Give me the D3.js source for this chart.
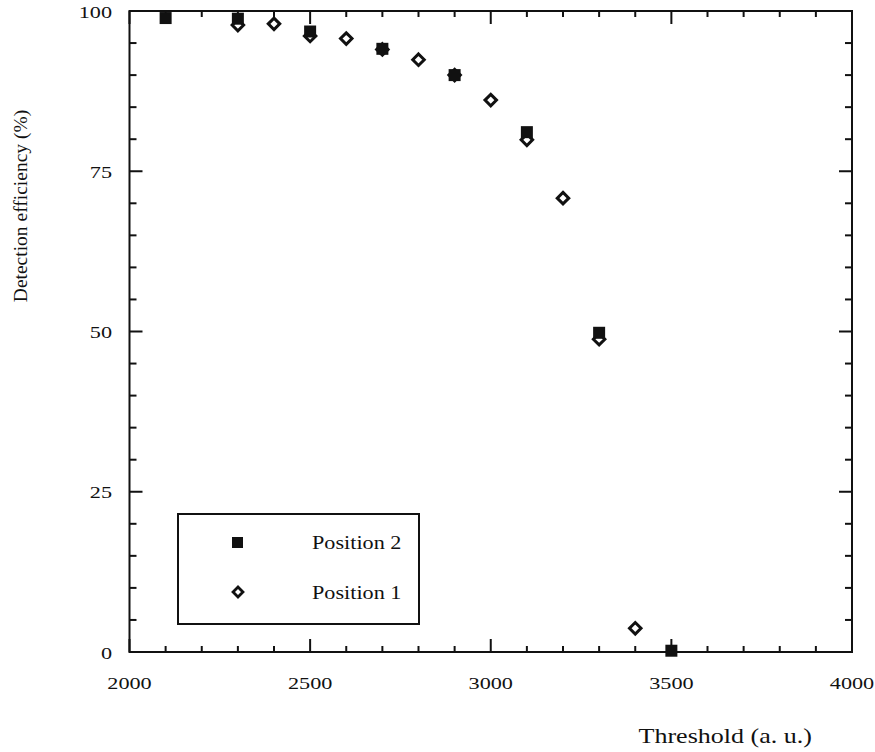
<!DOCTYPE html>
<html>
<head>
<meta charset="utf-8">
<script src="https://cdn.jsdelivr.net/npm/d3@7"></script>
<style>
  body { margin: 0; background: #fff; }
  svg { display: block; }
  text { font-family: "Liberation Serif", "Times New Roman", serif; fill: #111; }
</style>
</head>
<body>
<svg id="chart" width="875" height="752"></svg>
<script>
// values
var pos2Threshold = [2100, 2300, 2500, 2700, 2900, 3100, 3300, 3500];
var pos2Eff       = [98.9, 98.8, 96.8, 94.1, 90.0, 81.1, 49.8, 0.2];

var pos1Threshold = [2300, 2400, 2500, 2600, 2700, 2800, 2900, 3000, 3100, 3200, 3300, 3400];
var pos1Eff       = [97.8, 98.0, 96.1, 95.7, 94.0, 92.4, 90.0, 86.1, 79.9, 70.8, 48.8, 3.7];

var xTickLabels = [2000, 2500, 3000, 3500, 4000];
var yTickLabels = [0, 25, 50, 75, 100];
var seriesNames = ["Position 2", "Position 1"];

var svg = d3.select("#chart");
var plotL = 129.5, plotR = 852, plotT = 11, plotB = 652;

var x = d3.scaleLinear().domain([2000, 4000]).range([plotL, plotR]);
var y = d3.scaleLinear().domain([0, 100]).range([plotB, plotT]);

// the scan is a bit wider than tall, so text is stretched sideways
function place(sel, fx, fy, sx){
  return sel.attr("transform", function(d, i){
    return "translate(" + fx(d, i) + "," + fy(d, i) + ") scale(" + sx + ",1)";
  });
}

var frame = svg.append("g").attr("stroke", "#111").attr("stroke-width", 2);

// ticks on all four sides, pointing inward
var minorX = d3.range(2000, 4001, 100);
minorX.forEach(function(v){
  var len = (v % 500 === 0) ? 13 : 6;
  frame.append("line").attr("x1", x(v)).attr("x2", x(v)).attr("y1", plotB).attr("y2", plotB - len);
  frame.append("line").attr("x1", x(v)).attr("x2", x(v)).attr("y1", plotT).attr("y2", plotT + len);
});
var minorY = d3.range(0, 101, 5);
minorY.forEach(function(v){
  var len = (v % 25 === 0) ? 13 : 7;
  frame.append("line").attr("y1", y(v)).attr("y2", y(v)).attr("x1", plotL).attr("x2", plotL + len);
  frame.append("line").attr("y1", y(v)).attr("y2", y(v)).attr("x1", plotR).attr("x2", plotR - len);
});

frame.append("rect")
  .attr("x", plotL).attr("y", plotT)
  .attr("width", plotR - plotL).attr("height", plotB - plotT)
  .attr("fill", "none");

// tick labels
place(svg.selectAll(".xl").data(xTickLabels).enter().append("text"),
  function(d){ return x(d); }, function(){ return plotB + 37; }, 1.27)
  .attr("text-anchor", "middle")
  .style("font-size", "17.5px")
  .text(function(d){ return d; });

place(svg.selectAll(".yl").data(yTickLabels).enter().append("text"),
  function(){ return 112; }, function(d){ return y(d) + 6.5; }, 1.27)
  .attr("text-anchor", "end")
  .style("font-size", "17.5px")
  .text(function(d){ return d; });

// axis titles
place(svg.append("text").datum(0), function(){ return 812; }, function(){ return 743; }, 1.24)
  .attr("text-anchor", "end")
  .style("font-size", "21px")
  .text("Threshold (a. u.)");

svg.append("text")
  .attr("transform", "translate(27,206) rotate(-90)")
  .attr("text-anchor", "middle")
  .style("font-size", "19.5px")
  .text("Detection efficiency (%)");

var diamond = d3.symbol().type(d3.symbolDiamond2).size(84);

// Position 1: open diamonds
svg.append("g").selectAll("path")
  .data(d3.zip(pos1Threshold, pos1Eff))
  .enter().append("path")
  .attr("transform", function(d){ return "translate(" + x(d[0]) + "," + y(d[1]) + ")"; })
  .attr("d", diamond)
  .attr("fill", "#fff")
  .attr("stroke", "#111")
  .attr("stroke-width", 3);

// Position 2: filled squares
svg.append("g").selectAll("rect")
  .data(d3.zip(pos2Threshold, pos2Eff))
  .enter().append("rect")
  .attr("x", function(d){ return x(d[0]) - 6; })
  .attr("y", function(d){ return y(d[1]) - 6; })
  .attr("width", 12).attr("height", 12)
  .attr("fill", "#111");

// legend
var lg = svg.append("g");
lg.append("rect")
  .attr("x", 178).attr("y", 514)
  .attr("width", 241).attr("height", 110)
  .attr("fill", "none").attr("stroke", "#111").attr("stroke-width", 2);
lg.append("rect").attr("x", 232).attr("y", 537).attr("width", 11).attr("height", 11).attr("fill", "#111");
lg.append("path")
  .attr("transform", "translate(238,592)")
  .attr("d", d3.symbol().type(d3.symbolDiamond2).size(62))
  .attr("fill", "#fff").attr("stroke", "#111").attr("stroke-width", 2.8);
place(lg.selectAll("text").data(seriesNames).enter().append("text"),
  function(){ return 312; }, function(d, i){ return 549 + i * 50; }, 1.2)
  .style("font-size", "18.5px")
  .text(function(d){ return d; });
</script>
</body>
</html>
